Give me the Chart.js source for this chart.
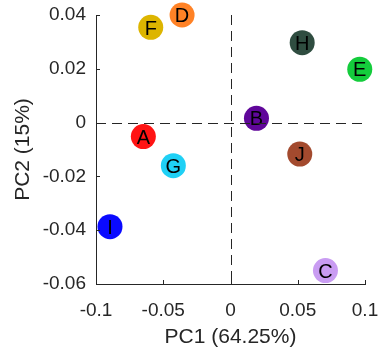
<!DOCTYPE html>
<html>
<head>
<meta charset="utf-8">
<script src="https://cdn.jsdelivr.net/npm/chart.js@4.4.1/dist/chart.umd.min.js"></script>
<style>
html,body{margin:0;padding:0;background:#fff;}
#wrap{width:378px;height:352px;}
</style>
</head>
<body>
<div id="wrap"><canvas id="c" width="378" height="352"></canvas></div>
<script>
const sampleLabels = ['A','B','C','D','E','F','G','H','I','J'];
const pc1 = [-0.0648, 0.0193, 0.0706, -0.0360, 0.0961, -0.0593, -0.0425, 0.0533, -0.0896, 0.0515];
const pc2 = [-0.0052, 0.0016, -0.0550, 0.0400, 0.0198, 0.0354, -0.0160, 0.0297, -0.0387, -0.0117];
const pointColors = ['#ff1414','#60079a','#c99cf2','#ff8226','#14cc3c','#ddb500','#1fd0f5','#2f4d40','#0a0aff','#a34a2e'];
const xTicks = [-0.1, -0.05, 0, 0.05, 0.1];
const yTicks = [-0.06, -0.04, -0.02, 0, 0.02, 0.04];
const xTitle = 'PC1 (64.25%)';
const yTitle = 'PC2 (15%)';

const FONT = '"Liberation Sans", Arial, Helvetica, sans-serif';
const AXIS_COLOR = '#262626';

const points = pc1.map((x, i) => ({x: x, y: pc2[i]}));

const overlayPlugin = {
  id: 'overlay',
  afterDatasetsDraw(chart) {
    const ctx = chart.ctx;
    const xs = chart.scales.x, ys = chart.scales.y;
    const meta = chart.getDatasetMeta(0);
    ctx.save();
    ctx.fillStyle = '#000';
    ctx.font = '20px ' + FONT;
    ctx.textAlign = 'center';
    ctx.textBaseline = 'alphabetic';
    meta.data.forEach((el, i) => {
      ctx.fillText(sampleLabels[i], el.x, el.y + 20 * 0.358);
    });
    ctx.strokeStyle = '#262626';
    ctx.lineWidth = 1;
    ctx.setLineDash([10, 6]);
    const x0 = Math.round(xs.getPixelForValue(0)) + 0.5;
    const y0 = Math.round(ys.getPixelForValue(0)) + 0.5;
    ctx.beginPath();
    ctx.moveTo(x0, ys.getPixelForValue(ys.max));
    ctx.lineTo(x0, ys.getPixelForValue(ys.min));
    ctx.stroke();
    ctx.beginPath();
    ctx.moveTo(xs.getPixelForValue(xs.min), y0);
    ctx.lineTo(xs.getPixelForValue(xs.max), y0);
    ctx.stroke();
    ctx.setLineDash([]);
    ctx.strokeStyle = AXIS_COLOR;
    const bottom = chart.chartArea.bottom, left = chart.chartArea.left;
    ctx.beginPath();
    xTicks.forEach(v => {
      const px = Math.round(xs.getPixelForValue(v)) + 0.5;
      ctx.moveTo(px, bottom);
      ctx.lineTo(px, bottom - 4);
    });
    yTicks.forEach(v => {
      const py = Math.round(ys.getPixelForValue(v)) + 0.5;
      ctx.moveTo(left, py);
      ctx.lineTo(left + 4, py);
    });
    ctx.stroke();
    ctx.restore();
  }
};

const fmt = v => String(Number(Number(v).toFixed(4)));
const zeroPad = s => { s.paddingLeft = 0; s.paddingRight = 0; s.paddingTop = 0; s.paddingBottom = 0; };

new Chart(document.getElementById('c'), {
  type: 'scatter',
  data: {
    datasets: [{
      data: points,
      backgroundColor: pointColors,
      borderColor: pointColors,
      borderWidth: 0,
      pointRadius: 12.5,
      pointHoverRadius: 12.5,
      clip: false
    }]
  },
  options: {
    responsive: false,
    animation: false,
    events: [],
    layout: { padding: { top: 15, right: 13, left: 0, bottom: 0 }, autoPadding: false },
    plugins: { legend: { display: false }, tooltip: { enabled: false } },
    scales: {
      x: {
        type: 'linear', min: -0.1, max: 0.1,
        afterBuildTicks: s => { s.ticks = xTicks.map(v => ({value: v})); },
        afterFit: s => { s.height = 68; zeroPad(s); },
        grid: { display: false, drawTicks: false },
        border: { display: true, color: AXIS_COLOR, width: 1 },
        ticks: { callback: fmt, color: AXIS_COLOR, font: { family: FONT, size: 19 }, padding: 15, maxRotation: 0, autoSkip: false },
        title: { display: true, text: xTitle, color: AXIS_COLOR, font: { family: FONT, size: 21 }, padding: { top: 0, bottom: 2 } }
      },
      y: {
        type: 'linear', min: -0.06, max: 0.04,
        afterBuildTicks: s => { s.ticks = yTicks.map(v => ({value: v})); },
        afterFit: s => { s.width = 96; zeroPad(s); },
        grid: { display: false, drawTicks: false },
        border: { display: true, color: AXIS_COLOR, width: 1 },
        ticks: { callback: fmt, color: AXIS_COLOR, font: { family: FONT, size: 19 }, padding: 10, autoSkip: false },
        title: { display: true, text: yTitle, color: AXIS_COLOR, font: { family: FONT, size: 21 }, padding: { top: 11, bottom: 0 } }
      }
    }
  },
  plugins: [overlayPlugin]
});
</script>
</body>
</html>
